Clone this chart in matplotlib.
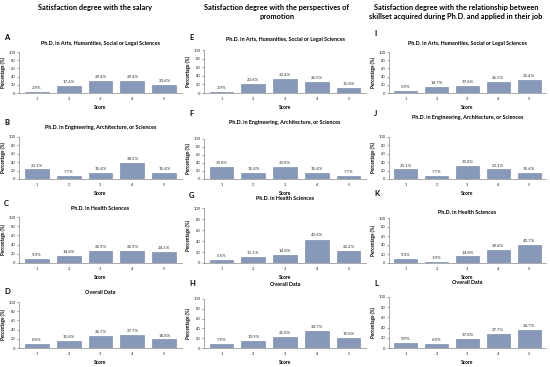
import matplotlib
matplotlib.use("Agg")
import matplotlib.pyplot as plt

plt.rcParams['font.family'] = ['Lato', 'DejaVu Sans']

scores = [1, 2, 3, 4, 5]

col_titles = [
    "Satisfaction degree with the salary",
    "Satisfaction degree with the perspectives of\npromotion",
    "Satisfaction degree with the relationship between\nskillset acquired during Ph.D. and applied in their job",
]
panel_titles = [
    "Ph.D. in Arts, Humanities, Social or Legal Sciences",
    "Ph.D. in Engineering, Architecture, or Sciences",
    "Ph.D. in Health Sciences",
    "Overall Data",
]
letters = [["A", "B", "C", "D"], ["E", "F", "G", "H"], ["I", "J", "K", "L"]]

# values per column (salary, promotion, skillset), rows = groups
salary = [
    [2.9, 17.6, 29.4, 29.4, 20.6],
    [23.1, 7.7, 15.4, 38.5, 15.4],
    [9.3, 14.8, 25.9, 25.9, 24.1],
    [8.9, 15.8, 26.7, 27.7, 18.8],
]
promotion = [
    [2.9, 20.6, 32.4, 26.5, 11.8],
    [30.8, 15.4, 30.8, 15.4, 7.7],
    [5.5, 11.1, 14.8, 42.6, 22.2],
    [7.9, 13.9, 21.8, 34.7, 19.8],
]
skillset = [
    [5.9, 14.7, 17.6, 26.5, 32.4],
    [23.1, 7.7, 30.8, 23.1, 15.4],
    [9.3, 1.9, 14.8, 29.6, 40.7],
    [9.9, 6.9, 17.8, 27.7, 34.7],
]
columns = [salary, promotion, skillset]

W, H = 550, 367
fig = plt.figure(figsize=(5.5, 3.67), dpi=100)

# pixel layout: (left, right) per column; (top of 100, bottom at 0) per panel
col_x = [(19, 182), (204, 366), (389, 546)]
rows_y = [
    [(52, 93), (137, 179), (217, 263), (302, 348)],
    [(50, 93), (139, 179), (208, 263), (299, 348)],
    [(52, 93), (137, 179), (218, 263), (297, 348)],
]
letter_y = [[37, 123, 204, 292], [38, 113, 195, 283], [33, 113, 193, 283]]
title_y = [[43, 127, 208, 293], [40, 123, 199, 285], [43, 118, 212, 283]]
col_title_x = [95, 277, 456]

bar_color = "#8798b8"
edge_color = "#6f82a3"

for c in range(3):
    x0, x1 = col_x[c]
    fig.text(col_title_x[c] / W, 1 - 4 / H, col_titles[c],
             ha="center", va="top", fontsize=5.3, fontweight="bold",
             linespacing=1.4)
    for r in range(4):
        top, bot = rows_y[c][r]
        ax = fig.add_axes([x0 / W, 1 - bot / H, (x1 - x0) / W, (bot - top) / H])
        vals = columns[c][r]
        ax.bar(scores, vals, width=0.75, color=bar_color, edgecolor=edge_color,
               linewidth=0.4)
        for s, v in zip(scores, vals):
            ax.text(s, v + 4, f"{v}%", ha="center", va="bottom", fontsize=3.2,
                    color="#333333")
        ax.set_xlim(0.45, 5.55)
        ax.set_ylim(0, 100)
        ax.set_yticks([0, 20, 40, 60, 80, 100])
        ax.set_xticks(scores)
        ax.tick_params(labelsize=2.9, length=1.2, width=0.4, pad=1.2,
                       colors="#555555", labelcolor="#222222")
        ax.tick_params(axis="x", length=0, pad=3)
        for sp in ["top", "right"]:
            ax.spines[sp].set_visible(False)
        for sp in ["left", "bottom"]:
            ax.spines[sp].set_linewidth(0.5)
            ax.spines[sp].set_color("#888888")
        ax.set_ylabel("Percentage (%)", fontsize=3.3, fontweight="bold", labelpad=1.5)
        ax.set_xlabel("Score", fontsize=3.6, fontweight="bold", labelpad=2.5)
        fig.text((x0 + x1) / 2 / W, 1 - title_y[c][r] / H, panel_titles[r],
                 ha="center", va="center", fontsize=3.9, fontweight="bold")
        fig.text((x0 - 15) / W, 1 - letter_y[c][r] / H, letters[c][r],
                 ha="left", va="center", fontsize=5.5, fontweight="bold")

fig.savefig("out.png", dpi=100)
